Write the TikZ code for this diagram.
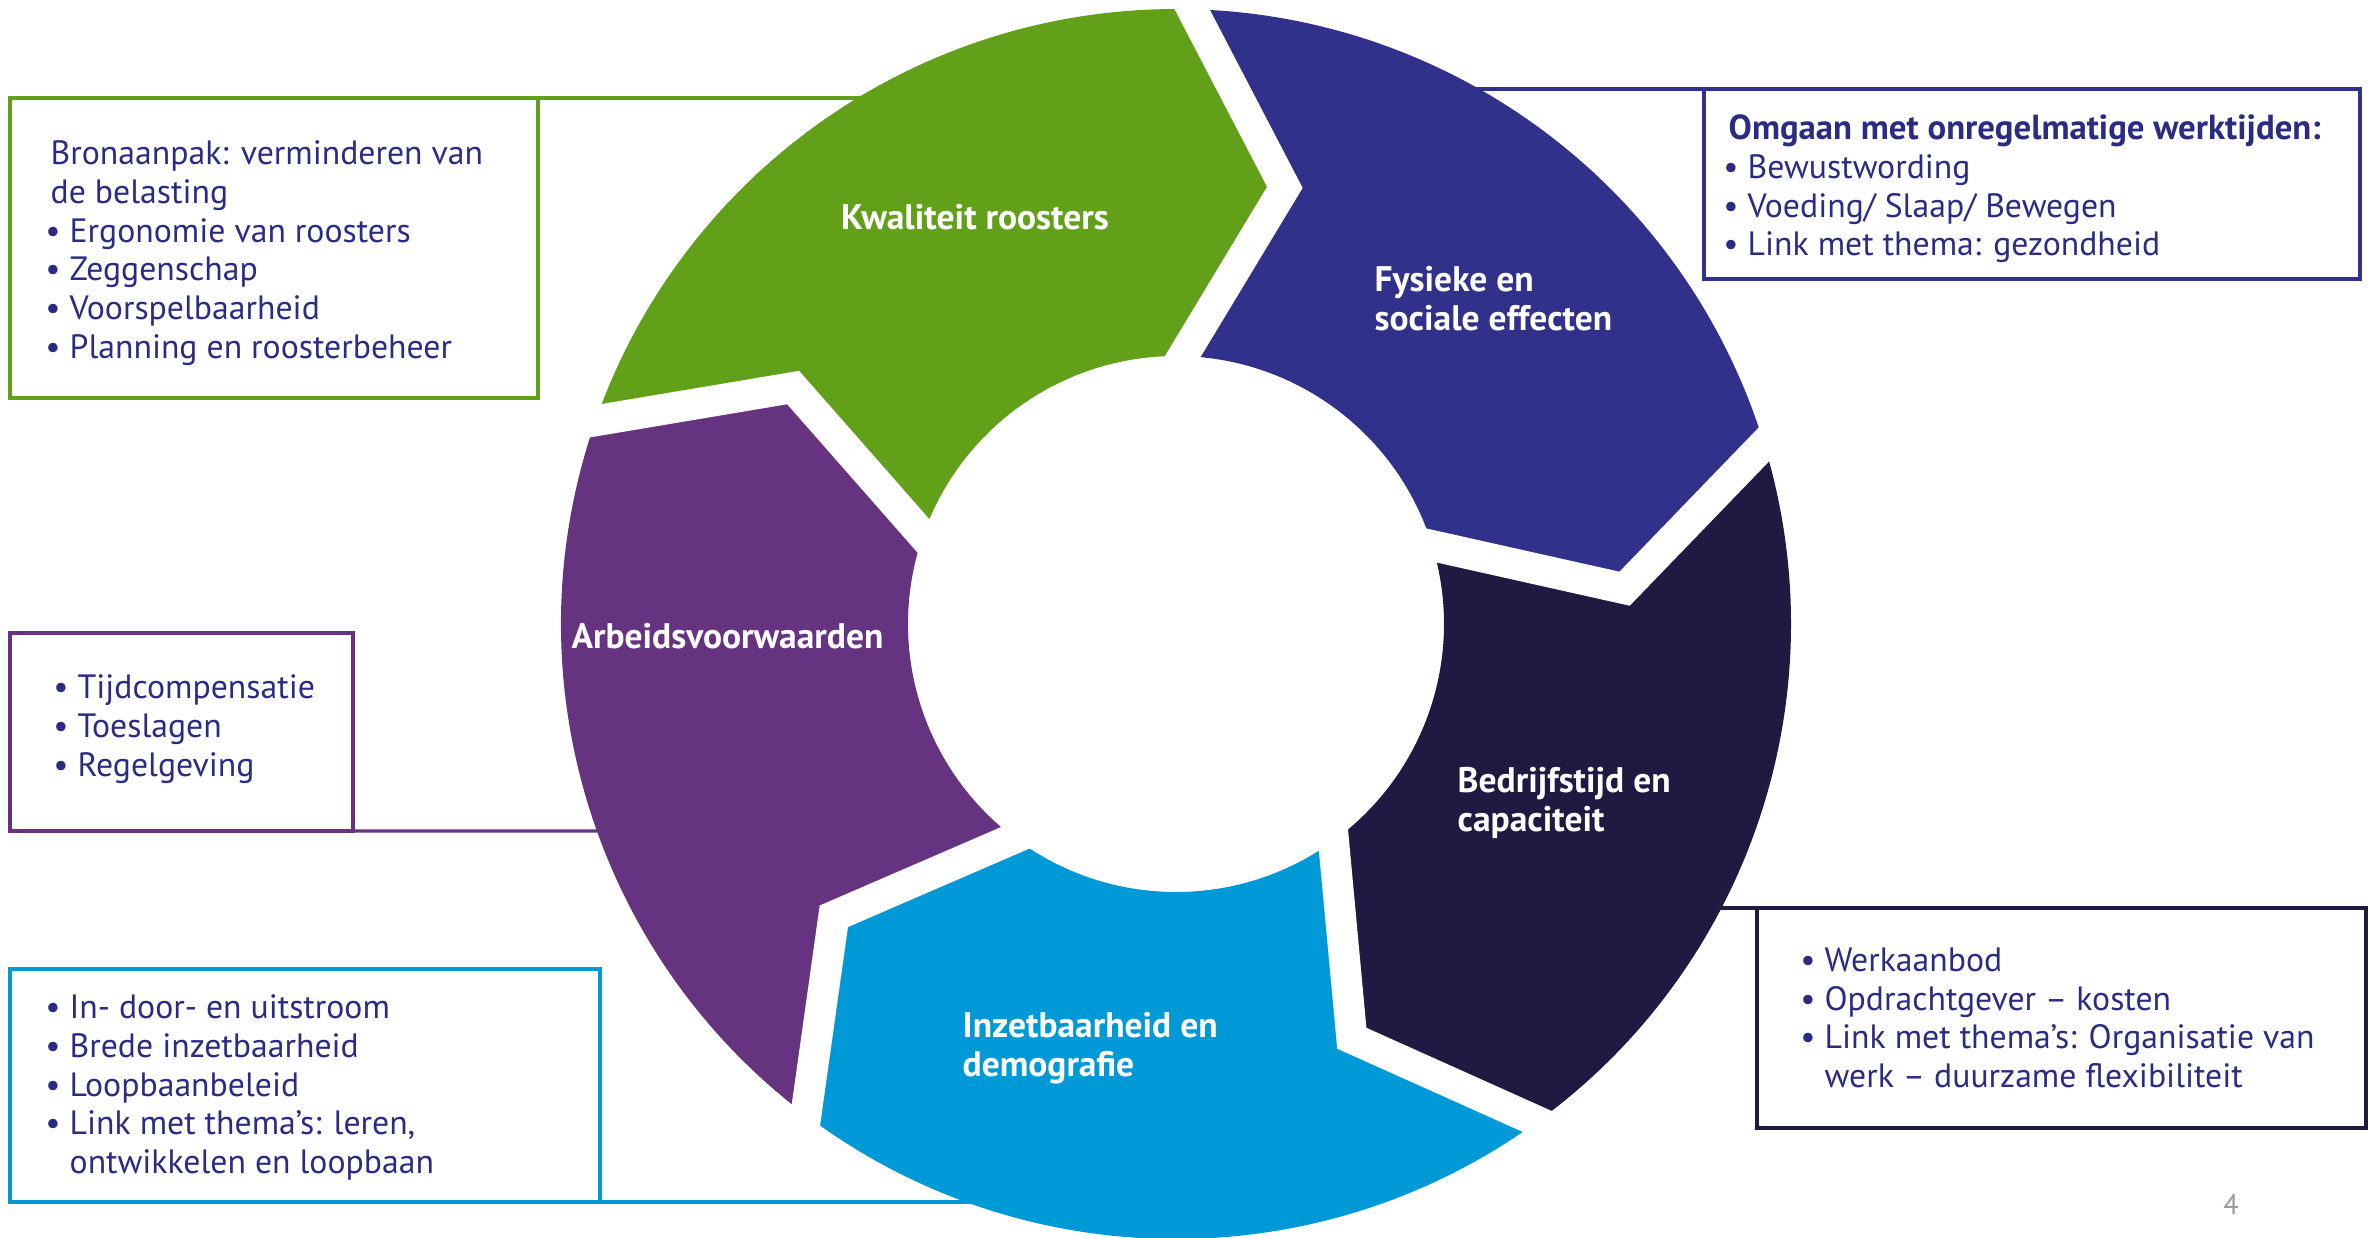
\documentclass[tikz,border=0pt]{standalone}
\usepackage{fontspec}
\setmainfont{PT Sans}
\usepackage{tikz}
\usepackage{xcolor}
\usetikzlibrary{positioning}
\definecolor{kgroen}{RGB}{98,160,26}
\definecolor{kblauw}{RGB}{49,49,139}
\definecolor{knavy}{RGB}{31,26,66}
\definecolor{klicht}{RGB}{0,153,216}
\definecolor{kpaars}{RGB}{102,51,128}
\definecolor{ktekst}{RGB}{44,43,132}
\newcommand{\opsom}{\kern-1.5pt•\ }

\begin{document}
\begin{tikzpicture}[
		lijst/.style={align=left,inner sep=0pt,text=ktekst,font=\fontsize{9.6}{11}\selectfont},
		kader/.style={draw,line width=0.9pt,anchor=north west,inner sep=0pt,outer sep=0pt},
		segtekst/.style={align=left,inner sep=0pt,text=white,font=\bfseries\fontsize{10.1}{11.1}\selectfont},
		spleet/.style={draw=white,line width=3.1mm,line join=miter,shorten <=-3mm,shorten >=-3mm}]
		\useasboundingbox (-11.76,-6.13) rectangle (11.99,6.24);
		\node[kader,draw=kgroen,minimum width=5.28cm,minimum height=3cm] (bronbox) at (-11.66,5.26) {};
		\node[lijst,right=4mm of bronbox.west,yshift=-0.05cm] (brontxt) {Bronaanpak: verminderen van\\de belasting\\\opsom Ergonomie van roosters\\\opsom Zeggenschap\\\opsom Voorspelbaarheid\\\opsom Planning en roosterbeheer};
		\draw[kgroen,line width=0.9pt] (bronbox.north east) -- (-2.5,5.26);
		\node[kader,draw=kblauw,minimum width=6.56cm,minimum height=1.9cm] (omgaanbox) at (5.28,5.35) {};
		\node[lijst,right=2.4mm of omgaanbox.west,yshift=-0.05cm] (omgaantxt) {{\bfseries\fontsize{9.9}{11}\selectfont Omgaan met onregelmatige werktijden:}\\\opsom Bewustwording\\\opsom Voeding/ Slaap/ Bewegen\\\opsom Link met thema: gezondheid};
		\draw[kblauw,line width=0.9pt] (omgaanbox.north west) -- (2.5,5.35);
		\node[kader,draw=kpaars,minimum width=3.43cm,minimum height=1.98cm] (voorwbox) at (-11.66,-0.09) {};
		\node[lijst,right=4.8mm of voorwbox.west,yshift=0.03cm] (voorwtxt) {\opsom Tijdcompensatie\\\opsom Toeslagen\\\opsom Regelgeving};
		\draw[kpaars,line width=0.9pt] (voorwbox.south east) -- (-5.2,-2.07);
		\node[kader,draw=klicht,minimum width=5.9cm,minimum height=2.33cm] (inzetbox) at (-11.66,-3.45) {};
		\node[lijst,right=4mm of inzetbox.west,yshift=-0.02cm] (inzettxt) {\opsom In- door- en uitstroom\\\opsom Brede inzetbaarheid\\\opsom Loopbaanbeleid\\\opsom Link met thema’s: leren,\\\phantom{\opsom}ontwikkelen en loopbaan};
		\draw[klicht,line width=0.9pt] (inzetbox.south east) -- (-1.6,-5.78);
		\node[kader,draw=knavy,minimum width=6.09cm,minimum height=2.2cm] (werkbox) at (5.81,-2.84) {};
		\node[lijst,right=4.8mm of werkbox.west] (werktxt) {\opsom Werkaanbod\\\opsom Opdrachtgever – kosten\\\opsom Link met thema’s: Organisatie van\\\phantom{\opsom}werk – duurzame flexibiliteit};
		\draw[knavy,line width=0.9pt] (werkbox.north west) -- (4.9,-2.84);
		\fill[kgroen] (160.7:6.15) arc[start angle=160.7,end angle=88.5,radius=6.15] -- (76:4.5) -- (88.5:2.68) arc[start angle=88.5,end angle=160.7,radius=2.68] -- (148.3:4.5) -- cycle;
		\fill[kblauw] (88.5:6.15) arc[start angle=88.5,end angle=17,radius=6.15] -- (4.5:4.5) -- (17:2.68) arc[start angle=17,end angle=88.5,radius=2.68] -- (76:4.5) -- cycle;
		\fill[knavy] (17:6.15) arc[start angle=17,end angle=-54,radius=6.15] -- (-67:4.5) -- (-54:2.68) arc[start angle=-54,end angle=17,radius=2.68] -- (4.5:4.5) -- cycle;
		\fill[klicht] (-54:6.15) arc[start angle=-54,end angle=-127,radius=6.15] -- (-139.5:4.5) -- (-127:2.68) arc[start angle=-127,end angle=-54,radius=2.68] -- (-67:4.5) -- cycle;
		\fill[kpaars] (-127:6.15) arc[start angle=-127,end angle=-199.3,radius=6.15] -- (-211.7:4.5) -- (-199.3:2.68) arc[start angle=-199.3,end angle=-127,radius=2.68] -- (-139.5:4.5) -- cycle;
		\draw[spleet] (88.5:6.15) -- (76:4.5) -- (88.5:2.68);
		\draw[spleet] (17:6.15) -- (4.5:4.5) -- (17:2.68);
		\draw[spleet] (-54:6.15) -- (-67:4.5) -- (-54:2.68);
		\draw[spleet] (-127:6.15) -- (-139.5:4.5) -- (-127:2.68);
		\draw[spleet] (160.7:6.15) -- (148.3:4.5) -- (160.7:2.68);
		\node[segtekst] (kwal) at (-2.01,4.07) {Kwaliteit roosters};
		\node[segtekst,anchor=west] (fysiek) at (1.98,3.255) {Fysieke en\\sociale effecten};
		\node[segtekst,anchor=west] (arbeid) at (-6.05,-0.12) {Arbeidsvoorwaarden};
		\node[segtekst,anchor=west] (bedrijf) at (2.81,-1.785) {Bedrijfstijd en\\capaciteit};
		\node[segtekst,anchor=west] (inzet) at (-2.14,-4.24) {Inzetbaarheid en\\demografie};
		\node[text=gray!80,font=\fontsize{8}{9}\selectfont] (paginanr) at (10.55,-5.8) {4};
	\end{tikzpicture}
\end{document}
